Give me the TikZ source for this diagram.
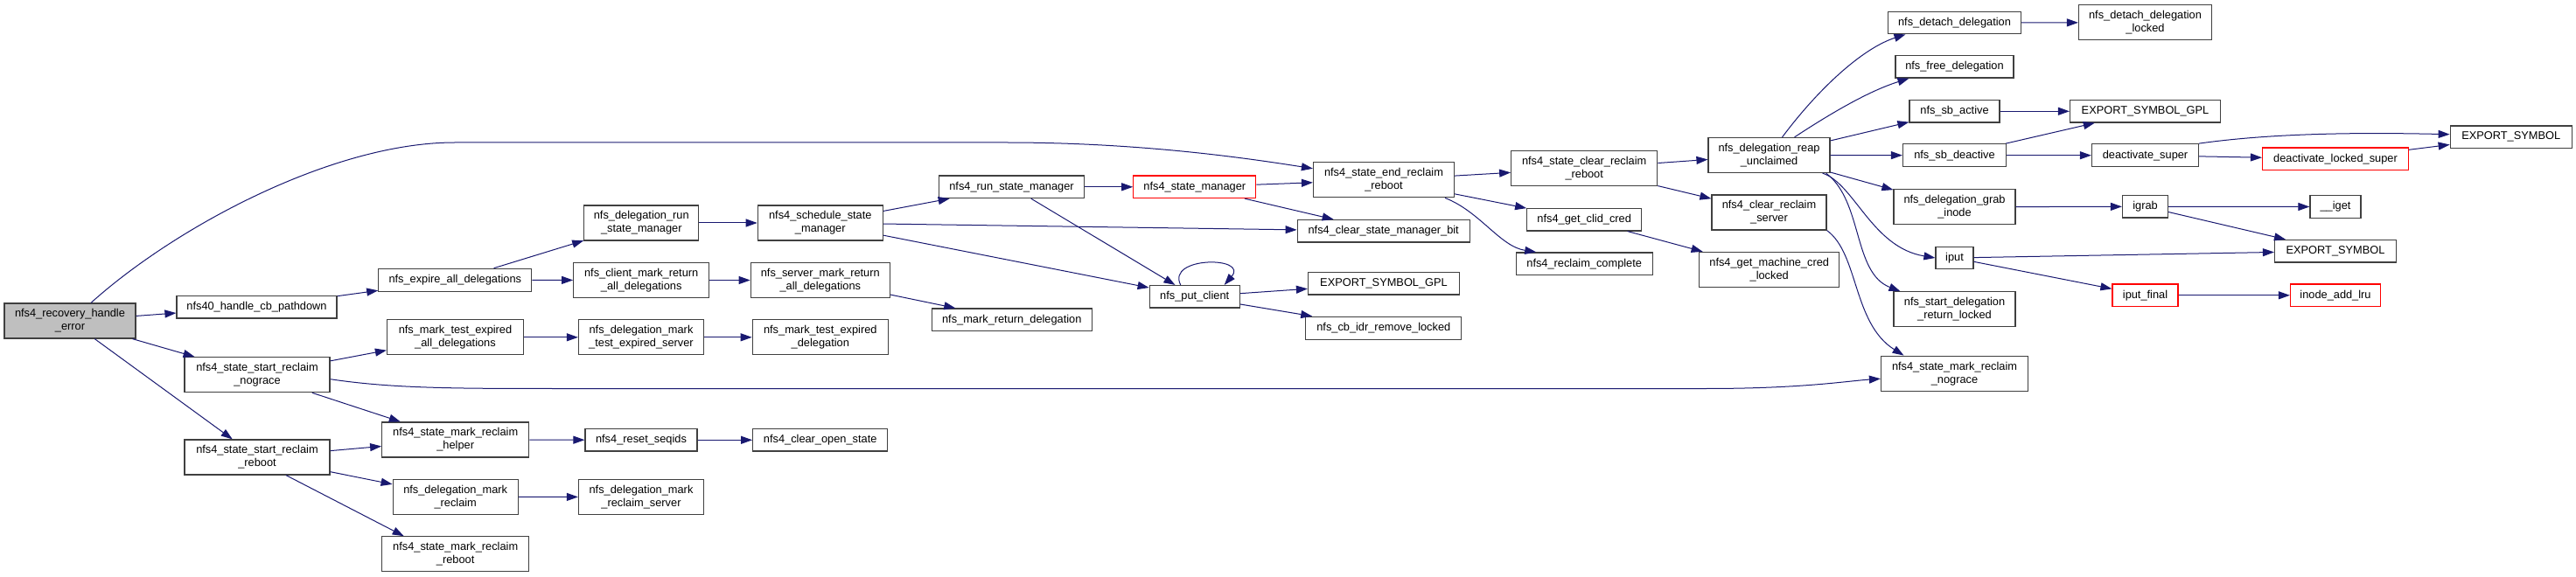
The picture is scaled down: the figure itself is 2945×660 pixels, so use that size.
\documentclass[tikz,border=0pt]{standalone}
\usepackage{fontspec}
\setsansfont{Liberation Sans}
\usepackage{xcolor}
\usepackage{tikz}
\usetikzlibrary{arrows.meta,positioning}
\definecolor{callblue}{RGB}{25,25,112}
\definecolor{focusgray}{RGB}{191,191,191}

\begin{document}
\begin{tikzpicture}[
      x=1pt, y=-1pt,
      fn/.style={draw=black!75, line width=1.2pt, fill=white, align=center, inner sep=0pt,
        font=\sffamily\fontsize{12.8}{15}\selectfont},
      sz/.style args={#1x#2}{minimum width=#1pt, minimum height=#2pt},
      focus/.style={fn, fill=focusgray},
      trunc/.style={fn, draw=red},
      call/.style={draw=callblue, line width=1pt, -{Triangle[length=13pt,width=9pt]}}
    ]
    \useasboundingbox (0,0) rectangle (2945,660);
    \node[focus, sz=150x40] (rec) at (80,367) {nfs4\_recovery\_handle\\\_error};
    \node[fn, sz=183x25.5] (cbpath) at (293.5,351.3) {nfs40\_handle\_cb\_pathdown};
    \node[fn, sz=166x40] (startng) at (294,428.7) {nfs4\_state\_start\_reclaim\\\_nograce};
    \node[fn, sz=166x40] (startrb) at (294,523) {nfs4\_state\_start\_reclaim\\\_reboot};
    \node[fn, sz=175x26] (expire) at (520.3,320.3) {nfs\_expire\_all\_delegations};
    \node[fn, sz=156x40] (testexpall) at (520.5,385.8) {nfs\_mark\_test\_expired\\\_all\_delegations};
    \node[fn, sz=168x40] (helper) at (520.7,503) {nfs4\_state\_mark\_reclaim\\\_helper};
    \node[fn, sz=143x40] (delegmark) at (520.7,568.3) {nfs\_delegation\_mark\\\_reclaim};
    \node[fn, sz=168x40] (markrb) at (520.7,633.8) {nfs4\_state\_mark\_reclaim\\\_reboot};
    \node[fn, sz=131x40] (runsm) at (733.3,255) {nfs\_delegation\_run\\\_state\_manager};
    \node[fn, sz=155x40] (clientret) at (733.2,320.5) {nfs\_client\_mark\_return\\\_all\_delegations};
    \node[fn, sz=143x40] (testexpsrv) at (733,385.8) {nfs\_delegation\_mark\\\_test\_expired\_server};
    \node[fn, sz=128x25.5] (seqids) at (733,503.3) {nfs4\_reset\_seqids};
    \node[fn, sz=143x40] (reclaimsrv) at (733,568.5) {nfs\_delegation\_mark\\\_reclaim\_server};
    \node[fn, sz=143x40] (schedsm) at (937.8,255) {nfs4\_schedule\_state\\\_manager};
    \node[fn, sz=159x40] (serverret) at (937.8,320.5) {nfs\_server\_mark\_return\\\_all\_delegations};
    \node[fn, sz=155x40] (testexpdel) at (937.8,385.8) {nfs\_mark\_test\_expired\\\_delegation};
    \node[fn, sz=154x25.5] (openstate) at (937.7,503.3) {nfs4\_clear\_open\_state};
    \node[fn, sz=166x25.5] (run4sm) at (1156.5,213.8) {nfs4\_run\_state\_manager};
    \node[fn, sz=183x25.5] (markret) at (1156.8,365.8) {nfs\_mark\_return\_delegation};
    \node[trunc, sz=140x25.5] (statemgr) at (1365.8,213.8) {nfs4\_state\_manager};
    \node[fn, sz=103x25.5] (putclient) at (1365.7,339.3) {nfs\_put\_client};
    \node[fn, sz=161x40] (endrb) at (1582,205.8) {nfs4\_state\_end\_reclaim\\\_reboot};
    \node[fn, sz=197x25.5] (clearbit) at (1581.7,264.3) {nfs4\_clear\_state\_manager\_bit};
    \node[fn, sz=173x25.5] (gplA) at (1582,324.3) {EXPORT\_SYMBOL\_GPL};
    \node[fn, sz=178x26] (cbidr) at (1581.8,375.3) {nfs\_cb\_idr\_remove\_locked};
    \node[fn, sz=167x40] (clearrb) at (1811.2,192.5) {nfs4\_state\_clear\_reclaim\\\_reboot};
    \node[fn, sz=131x25.5] (clidcred) at (1811.2,251.2) {nfs4\_get\_clid\_cred};
    \node[fn, sz=156x25.5] (reclaimdone) at (1811.2,301.7) {nfs4\_reclaim\_complete};
    \node[fn, sz=139x40] (reap) at (2022.5,177.5) {nfs\_delegation\_reap\\\_unclaimed};
    \node[fn, sz=131x40] (clearsrv) at (2022.5,243) {nfs4\_clear\_reclaim\\\_server};
    \node[fn, sz=160x40] (machcred) at (2022.7,308.4) {nfs4\_get\_machine\_cred\\\_locked};
    \node[fn, sz=152x25.5] (detach) at (2234.5,26) {nfs\_detach\_delegation};
    \node[fn, sz=135x25.5] (freedeleg) at (2234.5,76.3) {nfs\_free\_delegation};
    \node[fn, sz=103x25.5] (sbactive) at (2234.5,127.3) {nfs\_sb\_active};
    \node[fn, sz=118x26] (sbdeactive) at (2234.5,177.7) {nfs\_sb\_deactive};
    \node[fn, sz=139x40] (grab) at (2234.5,236.7) {nfs\_delegation\_grab\\\_inode};
    \node[fn, sz=43x25.5] (iput) at (2234.5,295) {iput};
    \node[fn, sz=139x40] (startret) at (2234.5,353.8) {nfs\_start\_delegation\\\_return\_locked};
    \node[fn, sz=168x40] (marknograce) at (2234.5,427.2) {nfs4\_state\_mark\_reclaim\\\_nograce};
    \node[fn, sz=152x40] (detachlk) at (2452.5,25.8) {nfs\_detach\_delegation\\\_locked};
    \node[fn, sz=172x25.5] (gplB) at (2452.5,127.3) {EXPORT\_SYMBOL\_GPL};
    \node[fn, sz=122x26] (deactsuper) at (2452.5,177.7) {deactivate\_super};
    \node[fn, sz=52x25.5] (igrab) at (2452.5,236.3) {igrab};
    \node[trunc, sz=75x25.5] (iputfinal) at (2452.5,337.8) {iput\_final};
    \node[trunc, sz=167x25.5] (deactlocked) at (2670,181.8) {deactivate\_locked\_super};
    \node[fn, sz=58x25.5] (iget) at (2670,236.5) {\_\_iget};
    \node[fn, sz=139x25.5] (expsymB) at (2670,287.2) {EXPORT\_SYMBOL};
    \node[trunc, sz=103x25.5] (addlru) at (2670,337.8) {inode\_add\_lru};
    \node[fn, sz=139x25.5] (expsymA) at (2870.7,156.7) {EXPORT\_SYMBOL};
    \draw[call] ([xshift=24pt]rec.north) .. controls (200,260) and (380,163) .. (520,163) -- (1150,163) .. controls (1300,163) and (1420,180) .. ([yshift=13pt]endrb.west);
    \draw[call] (rec) -- (cbpath);
    \draw[call] (rec) -- (startng);
    \draw[call] (rec) -- (startrb);
    \draw[call] (cbpath) -- (expire);
    \draw[call] (expire) -- (runsm);
    \draw[call] (expire) -- (clientret);
    \draw[call] (runsm) -- (schedsm);
    \draw[call] (clientret) -- (serverret);
    \draw[call] (serverret) -- (markret);
    \draw[call] (schedsm) -- (run4sm);
    \draw[call] (schedsm) -- (clearbit);
    \draw[call] (schedsm) -- (putclient);
    \draw[call] (run4sm) -- (statemgr);
    \draw[call] (run4sm) -- (putclient);
    \draw[call] (statemgr) -- (endrb);
    \draw[call] (statemgr) -- (clearbit);
    \draw[call] ([xshift=-16pt]putclient.north) .. controls (1333,293) and (1428,293) .. ([xshift=34pt]putclient.north);
    \draw[call] (putclient) -- (gplA);
    \draw[call] (putclient) -- (cbidr);
    \draw[call] (startng) -- (testexpall);
    \draw[call] ([yshift=-5pt]startng.east) .. controls (450,444.5) and (520,444.5) .. (650,444.5) -- (1950,444.5) .. controls (2060,444.5) and (2110,436) .. ([yshift=-6pt]marknograce.west);
    \draw[call] (startng) -- (helper);
    \draw[call] (startrb) -- (helper);
    \draw[call] (startrb) -- (delegmark);
    \draw[call] ([xshift=33pt]startrb.south) -- ([xshift=-59pt]markrb.north);
    \draw[call] (testexpall) -- (testexpsrv);
    \draw[call] (testexpsrv) -- (testexpdel);
    \draw[call] (helper) -- (seqids);
    \draw[call] (seqids) -- (openstate);
    \draw[call] (delegmark) -- (reclaimsrv);
    \draw[call] (endrb) -- (clearrb);
    \draw[call] (endrb) -- (clidcred);
    \draw[call] ([xshift=70pt]endrb.south) .. controls (1692,242) and (1715,282) .. ([xshift=-55pt]reclaimdone.north);
    \draw[call] (clearrb) -- (reap);
    \draw[call] (clearrb) -- (clearsrv);
    \draw[call] (clidcred) -- (machcred);
    \draw[call] (clearsrv.south east) .. controls (2125,290) and (2118,370) .. ([xshift=-58pt]marknograce.north);
    \draw[call] ([xshift=15pt]reap.north) .. controls (2080,100) and (2130,55) .. ([xshift=-56pt]detach.south);
    \draw[call] ([xshift=29pt]reap.north) .. controls (2100,125) and (2140,103) .. ([xshift=-52pt]freedeleg.south);
    \draw[call] (reap) -- (sbactive);
    \draw[call] (reap) -- (sbdeactive);
    \draw[call] (reap) -- (grab);
    \draw[call] ([xshift=-9pt]reap.south east) .. controls (2120,210) and (2140,283) .. (iput.west);
    \draw[call] ([xshift=-5pt]reap.south east) .. controls (2130,230) and (2118,312) .. ([xshift=-62pt]startret.north);
    \draw[call] (detach) -- (detachlk);
    \draw[call] (sbactive) -- (gplB);
    \draw[call] (sbdeactive) -- (gplB);
    \draw[call] (sbdeactive) -- (deactsuper);
    \draw[call] (deactsuper.north east) .. controls (2600,152) and (2700,151.5) .. ([yshift=3pt]expsymA.west);
    \draw[call] (deactsuper) -- (deactlocked);
    \draw[call] (deactlocked) -- (expsymA);
    \draw[call] (grab) -- (igrab);
    \draw[call] (igrab) -- (iget);
    \draw[call] (igrab) -- (expsymB);
    \draw[call] (iput) -- (expsymB);
    \draw[call] (iput) -- (iputfinal);
    \draw[call] (iputfinal) -- (addlru);
  \end{tikzpicture}
\end{document}
